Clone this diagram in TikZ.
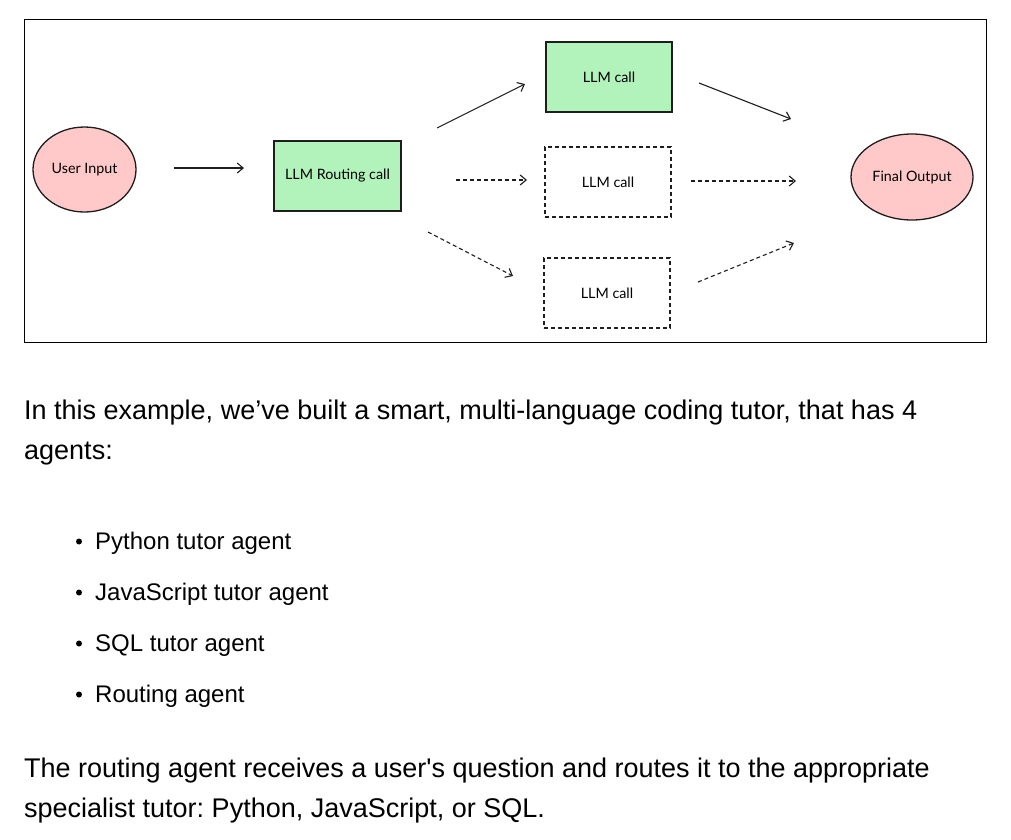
\documentclass[tikz,border=0pt]{standalone}
\usepackage{fontspec}
\newfontfamily\bodyfont{Liberation Sans}
\newfontfamily\sketchfont{Lato}
\usetikzlibrary{shapes.geometric,arrows.meta}
\definecolor{callgreen}{HTML}{B2F2BB}
\definecolor{inpink}{HTML}{FFC9C9}
\definecolor{ink}{HTML}{1E1E1E}
\frenchspacing
\tikzset{
	llmbox/.style={draw=ink,line width=1.2pt,minimum width=126pt,minimum height=70pt,inner sep=0pt,font=\sketchfont\fontsize{14.3}{16}\selectfont},
	endpoint/.style={ellipse,draw=ink,fill=inpink,line width=1.3pt,inner sep=0pt,font=\sketchfont\fontsize{14.3}{16}\selectfont},
	flow/.style={ink,line width=1.1pt,-{Straight Barb[length=6pt,width=10pt]}},
	dashflow/.style={flow,dash pattern=on 4pt off 3pt},
	bodytext/.style={anchor=base west,inner sep=0pt,font=\bodyfont\fontsize{27}{32}\selectfont},
	itemtext/.style={bodytext,font=\bodyfont\fontsize{24}{28}\selectfont}
}
\begin{document}
\begin{tikzpicture}[x=1pt,y=-1pt]
	\useasboundingbox [fill=white] (0,0) rectangle (1011,839);

	%cadre du schema
	\draw [black,line width=0.8pt] (24,19) rectangle (986,342);

	\node [endpoint,minimum width=103pt,minimum height=85pt] (input) at (84.5,169.5) {User Input};
	\node [llmbox,fill=callgreen,minimum width=127pt] (router) at (337.5,176) {LLM Routing call};
	\node [llmbox,fill=callgreen] (callA) at (609,77) {LLM call};
	\node [llmbox,dash pattern=on 4pt off 3pt] (callB) at (608,182) {LLM call};
	\node [llmbox,dash pattern=on 4pt off 3pt] (callC) at (607,293) {LLM call};
	\node [endpoint,minimum width=122pt,minimum height=86pt] (output) at (912,177) {Final Output};

	%fleches
	\coordinate (a1) at (174,168);   \coordinate (a2) at (244,168);
	\coordinate (b1) at (437,128);   \coordinate (b2) at (525,84);
	\coordinate (c1) at (456,180);   \coordinate (c2) at (527,180);
	\coordinate (d1) at (428,232);   \coordinate (d2) at (513,276);
	\coordinate (e1) at (699,83);    \coordinate (e2) at (791,119);
	\coordinate (f1) at (691,181);   \coordinate (f2) at (796,181);
	\coordinate (g1) at (698,282);   \coordinate (g2) at (794,243);
	\draw [flow] (a1) -- (a2);
	\draw [flow] (b1) -- (b2);
	\draw [dashflow] (c1) -- (c2);
	\draw [dashflow] (d1) -- (d2);
	\draw [flow] (e1) -- (e2);
	\draw [dashflow] (f1) -- (f2);
	\draw [dashflow] (g1) -- (g2);
	%fin

	\node [bodytext] (intro1) at (24,419) {In this example, we’ve built a smart, multi-language coding tutor, that has 4};
	\node [bodytext] (intro2) at (24,459) {agents:};

	\foreach \item/\y/\nm in {Python tutor agent/549/itemA,JavaScript tutor agent/600/itemB,SQL tutor agent/651/itemC,Routing agent/702/itemD}{
		\fill [black] (79,\y-7.5) circle (3pt);
		\node [itemtext] (\nm) at (95,\y) {\item};
	}

	\node [bodytext] (outro1) at (24,777) {The routing agent receives a user's question and routes it to the appropriate};
	\node [bodytext] (outro2) at (24,817) {specialist tutor: Python, JavaScript, or SQL.};
\end{tikzpicture}
\end{document}
